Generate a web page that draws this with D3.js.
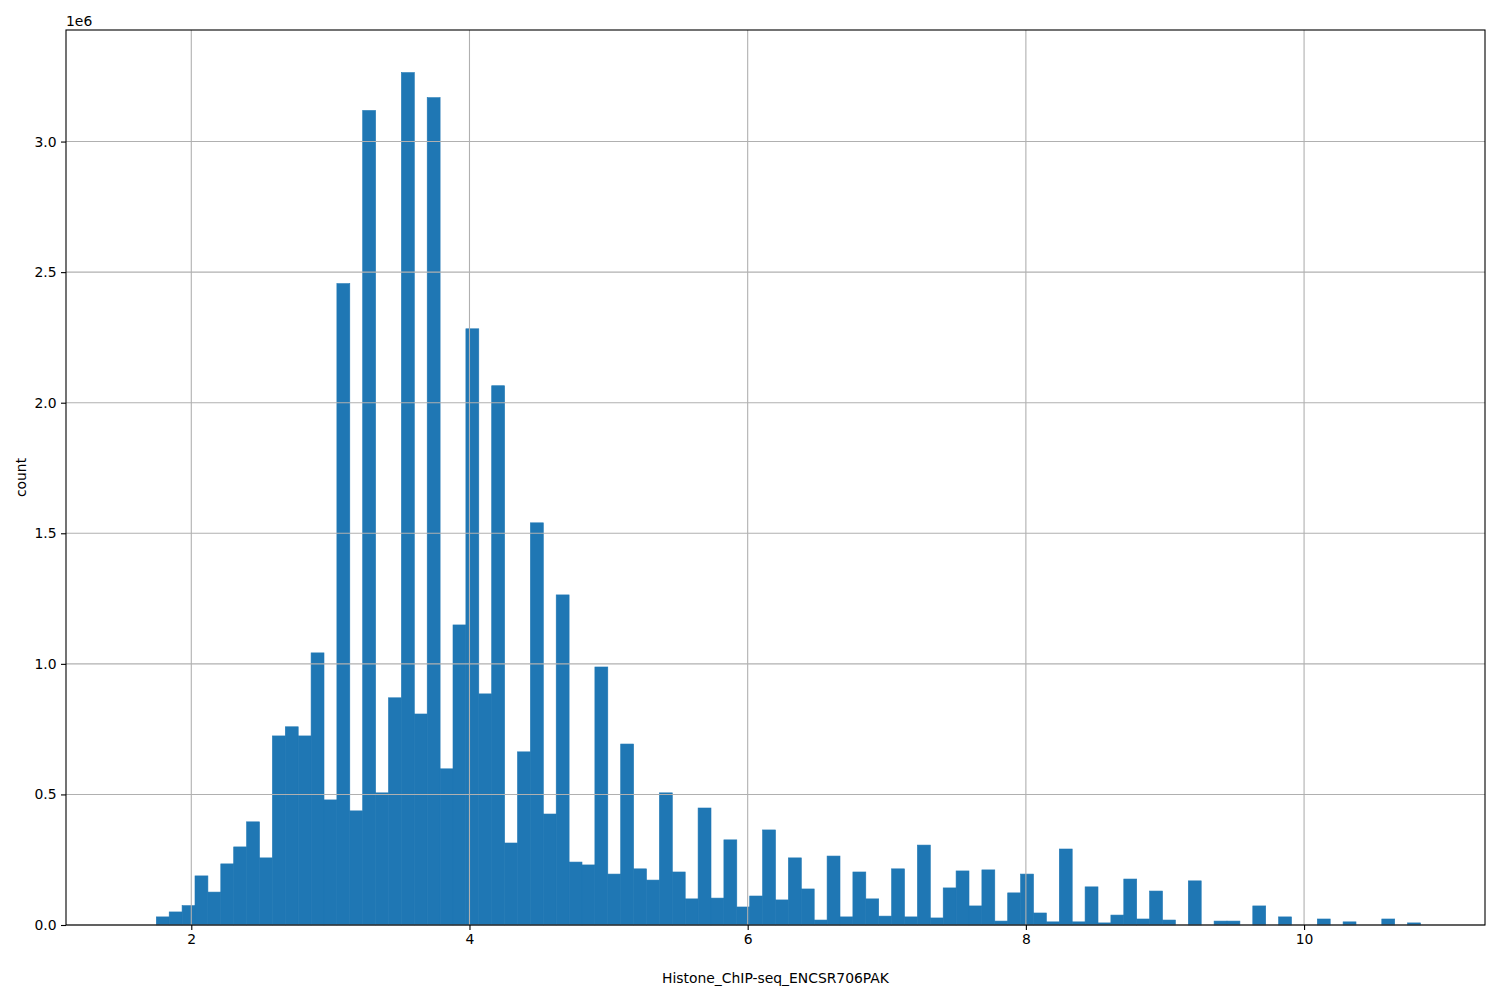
<!DOCTYPE html>
<html>
<head>
<meta charset="utf-8">
<script src="https://cdn.jsdelivr.net/npm/d3@7"></script>
<style>
  body { margin: 0; background: #fff; }
  svg { font-family: "DejaVu Sans", sans-serif; }
</style>
</head>
<body>
<div id="container"></div>
<script>
// Histogram data (100 equal bins)
const binStart = 1.563;
const binEnd = 10.837;
const counts = [
  0, 0, 31000, 50000, 74000, 188000, 126000, 234000, 299000, 395000,
  257000, 724000, 759000, 724000, 1042000, 479000, 2456000, 437000, 3119000, 506000,
  870000, 3264000, 808000, 3168000, 598000, 1149000, 2283000, 885000, 2065000, 314000,
  663000, 1540000, 425000, 1264000, 241000, 230000, 988000, 195000, 693000, 215000,
  172000, 506000, 203000, 100000, 448000, 103000, 326000, 69000, 111000, 364000,
  96000, 257000, 138000, 19000, 264000, 31000, 203000, 100000, 34000, 215000,
  31000, 306000, 27000, 142000, 207000, 73000, 211000, 15000, 123000, 195000,
  46000, 12000, 291000, 12000, 146000, 8000, 38000, 176000, 23000, 130000,
  19000, 0, 169000, 0, 15000, 15000, 0, 73000, 0, 31000,
  0, 0, 23000, 0, 12000, 0, 0, 23000, 0, 8000
];
const xTicks = [2, 4, 6, 8, 10];
const yTicks = [0, 500000, 1000000, 1500000, 2000000, 2500000, 3000000];
const xLabel = "Histone_ChIP-seq_ENCSR706PAK";
const yLabel = "count";

const width = 1500;
const height = 1000;
const margin = { top: 30, right: 15, bottom: 75, left: 66 };

const svg = d3.select("#container").append("svg")
    .attr("width", width)
    .attr("height", height);

// matplotlib style 5% padding around the data
const span = binEnd - binStart;
const x = d3.scaleLinear()
    .domain([binStart - 0.05 * span, binEnd + 0.05 * span])
    .range([margin.left, width - margin.right]);

const yMax = d3.max(counts) * 1.05;
const y = d3.scaleLinear()
    .domain([0, yMax])
    .range([height - margin.bottom, margin.top]);

const binWidth = span / counts.length;
const bins = counts.map((c, i) => ({
  x0: binStart + i * binWidth,
  x1: binStart + (i + 1) * binWidth,
  count: c
}));

// bars
svg.append("g")
  .selectAll("rect")
  .data(bins.filter(d => d.count > 0))
  .join("rect")
    .attr("x", d => x(d.x0))
    .attr("width", d => x(d.x1) - x(d.x0))
    .attr("y", d => y(d.count))
    .attr("height", d => y(0) - y(d.count))
    .attr("fill", "#1f77b4")
    .attr("stroke", "#1f77b4")
    .attr("stroke-width", 0.6);

// grid (drawn above the bars like matplotlib)
const grid = svg.append("g").attr("stroke", "#b0b0b0").attr("stroke-width", 1.1);
grid.selectAll("line.gx")
  .data(xTicks)
  .join("line")
    .attr("x1", d => x(d)).attr("x2", d => x(d))
    .attr("y1", margin.top).attr("y2", height - margin.bottom);
grid.selectAll("line.gy")
  .data(yTicks)
  .join("line")
    .attr("x1", margin.left).attr("x2", width - margin.right)
    .attr("y1", d => y(d)).attr("y2", d => y(d));

// axes
const xAxis = svg.append("g")
    .attr("transform", `translate(0,${height - margin.bottom})`)
    .call(d3.axisBottom(x).tickValues(xTicks).tickSize(5).tickPadding(4.5).tickFormat(d3.format("d")));

const yAxis = svg.append("g")
    .attr("transform", `translate(${margin.left},0)`)
    .call(d3.axisLeft(y).tickValues(yTicks).tickSize(5).tickPadding(4.5).tickFormat(d => (d / 1e6).toFixed(1)));

[xAxis, yAxis].forEach(a => {
  a.select(".domain").remove();
  a.selectAll("text").attr("font-size", 13.9).attr("fill", "#000").attr("font-family", "DejaVu Sans");
  a.selectAll("line").attr("stroke", "#000").attr("stroke-width", 1.1);
});

// frame
svg.append("rect")
    .attr("x", margin.left)
    .attr("y", margin.top)
    .attr("width", width - margin.left - margin.right)
    .attr("height", height - margin.top - margin.bottom)
    .attr("fill", "none")
    .attr("stroke", "#000")
    .attr("stroke-width", 1.1);

// offset text
svg.append("text")
    .attr("x", margin.left)
    .attr("y", 26)
    .attr("font-size", 13.9)
    .text("1e6");

// axis labels
svg.append("text")
    .attr("x", (margin.left + width - margin.right) / 2)
    .attr("y", 983)
    .attr("text-anchor", "middle")
    .attr("font-size", 13.9)
    .text(xLabel);

svg.append("text")
    .attr("transform", `translate(26,${(margin.top + height - margin.bottom) / 2}) rotate(-90)`)
    .attr("text-anchor", "middle")
    .attr("font-size", 13.9)
    .text(yLabel);
</script>
</body>
</html>
